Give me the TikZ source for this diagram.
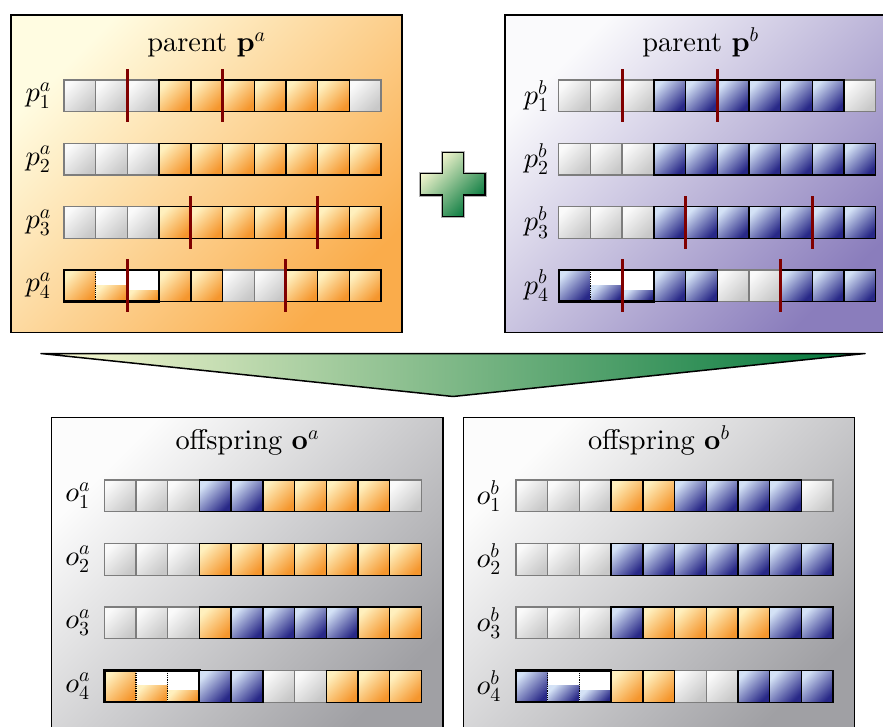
\documentclass[tikz,border=0pt]{standalone}
\usepackage[no-math]{fontspec}
\setmainfont{lmroman10-regular.otf}[BoldFont=lmroman10-bold.otf]
\DeclareFontShape{OML}{cmm}{m}{it}{<->cmmi10}{}
\DeclareFontShape{OML}{cmm}{b}{it}{<->cmmib10}{}
\DeclareFontShape{OT1}{cmr}{m}{n}{<->cmr10}{}
\DeclareFontShape{OT1}{cmr}{bx}{n}{<->cmbx10}{}
\DeclareFontShape{OMS}{cmsy}{m}{n}{<->cmsy10}{}
\DeclareFontShape{OMX}{cmex}{m}{n}{<->cmex10}{}
\definecolor{orL}{RGB}{255,240,190}
\definecolor{orD}{RGB}{245,150,45}
\definecolor{blL}{RGB}{212,226,246}
\definecolor{blD}{RGB}{40,40,135}
\definecolor{grL}{RGB}{250,250,250}
\definecolor{grD}{RGB}{200,200,200}
\definecolor{grE}{RGB}{125,125,125}
\definecolor{paL}{RGB}{255,252,225}
\definecolor{paD}{RGB}{250,172,75}
\definecolor{pbL}{RGB}{250,250,252}
\definecolor{pbD}{RGB}{138,125,188}
\definecolor{ofL}{RGB}{252,252,252}
\definecolor{ofD}{RGB}{160,160,164}
\definecolor{gnL}{RGB}{252,250,212}
\definecolor{gnD}{RGB}{0,118,58}
\definecolor{cutred}{RGB}{128,0,0}
\tikzset{
 diag/.style 2 args={top color=#1, bottom color=#2, shading angle=45},
 cell-g/.style={diag={grL}{grD}, draw=grE, line width=1.4},
 cell-o/.style={diag={orL}{orD}, draw=black, line width=1.4},
 cell-b/.style={diag={blL}{blD}, draw=black, line width=1.4},
 edge-g/.style={},
 edge-o/.style={draw=black, line width=1.4},
 edge-b/.style={draw=black, line width=1.4},
 panel/.style 2 args={diag={#1}{#2}, draw=black, line width=1.4},
 cutline/.style={draw=cutred, line width=3},
 seam/.style={densely dotted, line width=1.2},
 groupbox/.style={draw=black, line width=2.4},
 title/.style={font=\fontsize{28.4}{34}\selectfont, anchor=base, inner sep=0},
 rowlabel/.style={font=\fontsize{28.4}{34}\selectfont, anchor=east, inner sep=0},
}
\def\cw{31.7}
% #1 x0, #2 ytop, #3 first index, #4 list of cell types
\newcommand\generow[4]{%
  \foreach \t [count=\i from #3] in {#4} {
    \path[cell-\t] ({#1+\i*\cw},#2) rectangle ++(\cw,\cw);
  }
  \foreach \t [count=\i from #3] in {#4} {
    \path[edge-\t] ({#1+\i*\cw},#2) rectangle ++(\cw,\cw);
  }
}
% #1 x0, #2 ytop, #3 type
\newcommand\splitgroup[3]{%
  \path[cell-#3, draw=none] (#1,#2) rectangle ++(\cw,\cw);
  \fill[white] ({#1+\cw},#2) rectangle ++({2*\cw},\cw);
  \path[cell-#3, draw=none] ({#1+\cw},{#2+0.48*\cw}) rectangle ++(\cw,{0.52*\cw});
  \path[cell-#3, draw=none] ({#1+2*\cw},{#2+0.64*\cw}) rectangle ++(\cw,{0.36*\cw});
  \draw[seam] ({#1+\cw},#2) -- ++(0,\cw);
  \draw[seam] ({#1+2*\cw},#2) -- ++(0,\cw);
  \draw[groupbox] (#1,#2) rectangle ++({3*\cw},\cw);
}
% #1 x0, #2 ytop, #3 boundary index
\newcommand\cutat[3]{%
  \draw[cutline] ({#1+#3*\cw},{#2-10.5}) -- ++(0,{\cw+21});
}
\begin{document}
\begin{tikzpicture}[x=1pt,y=-1pt]
\useasboundingbox (0,0) rectangle (883,727);
\clip (0,0) rectangle (883,727);

% ---------- parent a ----------
\path[panel={paL}{paD}] (11,15) rectangle (402,332.5);
\node[title] (ta) at (206.5,52) {parent $\mathbf{p}^a$};
\def\xa{64}
\generow{\xa}{80}{0}{g,g,g,o,o,o,o,o,o,g}
\generow{\xa}{143.3}{0}{g,g,g,o,o,o,o,o,o,o}
\generow{\xa}{206.6}{0}{g,g,g,o,o,o,o,o,o,o}
\splitgroup{\xa}{269.9}{o}
\generow{\xa}{269.9}{3}{o,o,g,g,o,o,o}
\cutat{\xa}{80}{2}\cutat{\xa}{80}{5}
\cutat{\xa}{206.6}{4}\cutat{\xa}{206.6}{8}
\cutat{\xa}{269.9}{2}\cutat{\xa}{269.9}{7}
\node[rowlabel] (pa1) at ({\xa-13},{80+\cw/2}) {$p_1^a$};
\node[rowlabel] (pa2) at ({\xa-13},{143.3+\cw/2}) {$p_2^a$};
\node[rowlabel] (pa3) at ({\xa-13},{206.6+\cw/2}) {$p_3^a$};
\node[rowlabel] (pa4) at ({\xa-13},{269.9+\cw/2}) {$p_4^a$};

% ---------- parent b ----------
\path[panel={pbL}{pbD}] (505,15) rectangle (896,332.5);
\node[title] (tb) at (700.5,52) {parent $\mathbf{p}^b$};
\def\xb{558.7}
\generow{\xb}{80}{0}{g,g,g,b,b,b,b,b,b,g}
\generow{\xb}{143.3}{0}{g,g,g,b,b,b,b,b,b,b}
\generow{\xb}{206.6}{0}{g,g,g,b,b,b,b,b,b,b}
\splitgroup{\xb}{269.9}{b}
\generow{\xb}{269.9}{3}{b,b,g,g,b,b,b}
\cutat{\xb}{80}{2}\cutat{\xb}{80}{5}
\cutat{\xb}{206.6}{4}\cutat{\xb}{206.6}{8}
\cutat{\xb}{269.9}{2}\cutat{\xb}{269.9}{7}
\node[rowlabel] (pb1) at ({\xb-10},{80+\cw/2}) {$p_1^b$};
\node[rowlabel] (pb2) at ({\xb-10},{143.3+\cw/2}) {$p_2^b$};
\node[rowlabel] (pb3) at ({\xb-10},{206.6+\cw/2}) {$p_3^b$};
\node[rowlabel] (pb4) at ({\xb-10},{269.9+\cw/2}) {$p_4^b$};

% ---------- plus sign ----------
\path[diag={gnL}{gnD}, draw=black, line width=1.5,
      preaction={draw=gray!60, line width=3.5}]
  (442.3,152.7) -- (463.3,152.7) -- (463.3,173.3) -- (485,173.3) -- (485,195)
  -- (463.3,195) -- (463.3,216.7) -- (442.3,216.7) -- (442.3,195) -- (420.7,195)
  -- (420.7,173.3) -- (442.3,173.3) -- cycle;

% ---------- funnel ----------
\path[left color=gnL, right color=gnD, draw=black, line width=1.5, line join=round]
  (41,353.5) -- (865,353.5) -- (453,396.5) -- cycle;

% ---------- offspring a ----------
\path[panel={ofL}{ofD}] (51.7,417.3) rectangle (443,740);
\node[title] (toa) at (247.3,449.5) {offspring $\mathbf{o}^a$};
\def\xc{104.3}
\generow{\xc}{480}{0}{g,g,g,b,b,o,o,o,o,g}
\generow{\xc}{543.5}{0}{g,g,g,o,o,o,o,o,o,o}
\generow{\xc}{607}{0}{g,g,g,o,b,b,b,b,o,o}
\splitgroup{\xc}{670.5}{o}
\generow{\xc}{670.5}{3}{b,b,g,g,o,o,o}
\node[rowlabel] (oa1) at ({\xc-14},{480+\cw/2}) {$o_1^a$};
\node[rowlabel] (oa2) at ({\xc-14},{543.5+\cw/2}) {$o_2^a$};
\node[rowlabel] (oa3) at ({\xc-14},{607+\cw/2}) {$o_3^a$};
\node[rowlabel] (oa4) at ({\xc-14},{670.5+\cw/2}) {$o_4^a$};

% ---------- offspring b ----------
\path[panel={ofL}{ofD}] (463.3,417.3) rectangle (854.3,740);
\node[title] (tob) at (658.8,449.5) {offspring $\mathbf{o}^b$};
\def\xd{516}
\generow{\xd}{480}{0}{g,g,g,o,o,b,b,b,b,g}
\generow{\xd}{543.5}{0}{g,g,g,b,b,b,b,b,b,b}
\generow{\xd}{607}{0}{g,g,g,b,o,o,o,o,b,b}
\splitgroup{\xd}{670.5}{b}
\generow{\xd}{670.5}{3}{o,o,g,g,b,b,b}
\node[rowlabel] (ob1) at ({\xd-15},{480+\cw/2}) {$o_1^b$};
\node[rowlabel] (ob2) at ({\xd-15},{543.5+\cw/2}) {$o_2^b$};
\node[rowlabel] (ob3) at ({\xd-15},{607+\cw/2}) {$o_3^b$};
\node[rowlabel] (ob4) at ({\xd-15},{670.5+\cw/2}) {$o_4^b$};
\end{tikzpicture}
\end{document}
